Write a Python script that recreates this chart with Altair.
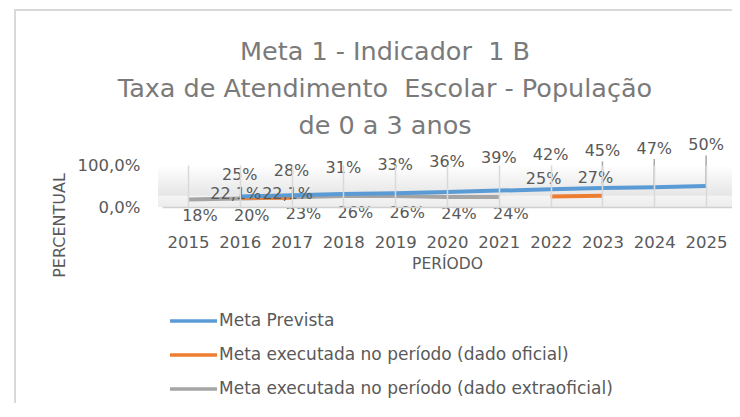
import altair as alt
import pandas as pd

# ---------------- data ----------------
years = [str(y) for y in range(2015, 2026)]
meta_prevista = [None, 25, 28, 31, 33, 36, 39, 42, 45, 47, 50]
oficial = [None, 22.1, 22.1, None, None, None, None, 25, 27, None, None]
extraoficial = [18, 20, 23, 26, 26, 24, 24, None, None, None, None]
series_names = [
    "Meta Prevista",
    "Meta executada no período (dado oficial)",
    "Meta executada no período (dado extraoficial)",
]
series_colors = ["#5b9bd5", "#ed7d31", "#a5a5a5"]
title_lines = [
    "Meta 1 - Indicador\u00a0 1 B",
    "Taxa de Atendimento\u00a0 Escolar - População",
    "de 0 a 3 anos",
]
y_ticks = [0, 100]

rows = []
for name, vals in zip(series_names, [meta_prevista, oficial, extraoficial]):
    for yr, v in zip(years, vals):
        rows.append({"serie": name, "ano": yr, "valor": v})
df = pd.DataFrame(rows)

# ---------------- layout ----------------
W, H = 570, 42
FONT = "DejaVu Sans"
TXT = "#595959"

xenc = alt.X(
    "ano:O",
    scale=alt.Scale(type="point", padding=0.5, domain=years),
    axis=alt.Axis(
        title="PERÍODO",
        labelAngle=0,
        labelFontSize=16.5,
        labelColor=TXT,
        labelPadding=35,
        labelBaseline="middle",
        ticks=False,
        domain=True,
        domainColor="#d0d0d0",
        domainWidth=1.5,
        grid=True,
        gridColor="#d9d9d9",
        gridWidth=1.5,
        titleFontSize=15.5,
        titleFontWeight="normal",
        titleColor=TXT,
        titleY=56,
        titleBaseline="middle",
        zindex=1,
    ),
)
yscale = alt.Scale(domain=[0, 100], nice=False, zero=True)
yaxis = alt.Axis(
    values=y_ticks,
    labelExpr="replace(format(datum.value/100, '.1%'), '.', ',')",
    labelFontSize=16.5,
    labelColor=TXT,
    labelPadding=22,
    ticks=False,
    domain=False,
    grid=False,
    title="PERCENTUAL",
    titleFontSize=16,
    titleFontWeight="normal",
    titleColor=TXT,
    titleX=-103,
    titleY=60,
    titleAlign="center",
    titleBaseline="middle",
)

color = alt.Color(
    "serie:N",
    scale=alt.Scale(domain=series_names, range=series_colors),
    legend=alt.Legend(
        title=None,
        orient="none",
        legendX=6,
        legendY=130.5,
        direction="vertical",
        symbolType="stroke",
        symbolSize=2209,
        symbolStrokeWidth=3.5,
        labelFontSize=17,
        labelColor=TXT,
        labelOffset=0,
        labelLimit=600,
        rowPadding=-13,
    ),
)

base = alt.Chart(df)

wall = alt.Chart(pd.DataFrame({"k": [0]})).mark_rect(
    fill=alt.LinearGradient(
        gradient="linear",
        x1=0, y1=0, x2=0, y2=1,
        stops=[
            alt.GradientStop(color="#ffffff", offset=0),
            alt.GradientStop(color="#e6e6e6", offset=0.72),
            alt.GradientStop(color="#f4f4f4", offset=0.74),
            alt.GradientStop(color="#ececec", offset=1),
        ],
    )
).encode(
    x=alt.value(-4), x2=alt.value(W),
    y=alt.datum(100, scale=yscale), y2=alt.datum(0),
)

def series_line(name):
    return base.transform_filter(alt.datum.serie == name).mark_line(
        strokeWidth=4, invalid="break-paths-show-domains"
    ).encode(x=xenc, y=alt.Y("valor:Q", scale=yscale, axis=yaxis), color=color)

lines = [series_line(series_names[2]), series_line(series_names[1]), series_line(series_names[0])]

label_fmt = "replace(format(datum.valor, '.1~f'), '.', ',') + '%'"

def sel(i, extra=""):
    expr = f"datum.serie == '{series_names[i]}' && isValid(datum.valor) && isFinite(datum.valor)"
    if extra:
        expr += " && " + extra
    return expr

LBL = 16

blue_labels = base.transform_filter(sel(0)).transform_calculate(
    txt=label_fmt, pos="datum.valor * 2.857"
).mark_text(fontSize=LBL, color=TXT, baseline="middle", dy=-2).encode(
    x="ano:O", y=alt.Y("pos:Q"), text="txt:N"
)

leaders = base.transform_filter(sel(0, "datum.ano >= '2023'")).transform_calculate(
    pos="datum.valor * 2.857 - 20"
).mark_rule(color="#a6a6a6", strokeWidth=1.5).encode(
    x="ano:O", y=alt.Y("valor:Q"), y2="pos:Q"
)

orange_late = base.transform_filter(sel(1, "datum.ano >= '2022'")).transform_calculate(
    txt=label_fmt
).mark_text(fontSize=LBL, color=TXT, baseline="middle", dy=-18, dx=-7).encode(
    x="ano:O", y="valor:Q", text="txt:N"
)

orange_early = base.transform_filter(sel(1, "datum.ano < '2022'")).transform_calculate(
    txt=label_fmt
).mark_text(fontSize=LBL, color=TXT, baseline="middle", dy=-3.5, dx=-4).encode(
    x="ano:O", y="valor:Q", text="txt:N"
)

grey_labels = base.transform_filter(sel(2)).transform_calculate(
    txt=label_fmt
).mark_text(fontSize=LBL, color=TXT, baseline="middle", dy=17, dx=12).encode(
    x="ano:O", y="valor:Q", text="txt:N"
)

border = alt.Chart(pd.DataFrame({"k": [0]})).mark_rect(
    filled=False, stroke="#d9d9d9", strokeWidth=2
).encode(
    x=alt.value(-147), x2=alt.value(W + 80),
    y=alt.value(-155), y2=alt.value(H + 300),
)

chart = alt.layer(
    wall, *lines, leaders, grey_labels, orange_early, orange_late, blue_labels, border
).properties(
    width=W,
    height=H,
    autosize=alt.AutoSizeParams(type="none"),
    padding={"left": 154, "top": 157, "right": 0, "bottom": 196},
    title=alt.TitleParams(
        text=title_lines,
        fontSize=25.5,
        font=FONT,
        fontWeight="normal",
        color="#7a7a7a",
        lineHeight=37,
        anchor="middle",
        frame="group",
        offset=30,
        dy=160,
        dx=-62,
    ),
).configure(font=FONT).configure_view(stroke=None)

chart.save("out.html", embed_options={"renderer": "svg", "actions": False})
